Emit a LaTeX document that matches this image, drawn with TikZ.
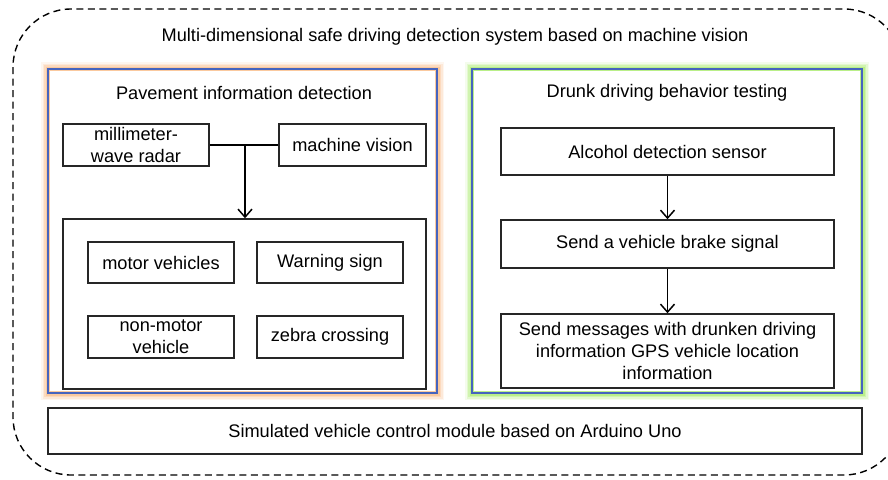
\documentclass[tikz,border=0pt]{standalone}
\usepackage{fontspec}
\setmainfont{Liberation Sans}
\usetikzlibrary{arrows.meta}
\definecolor{glowor}{RGB}{250,185,130}
\definecolor{glowgr}{RGB}{165,235,100}
\definecolor{panelblue}{RGB}{70,100,190}
\tikzset{
  box/.style={draw=black!85, line width=1.5pt, inner sep=0pt, align=center,
    font=\fontsize{18.2}{22}\selectfont},
  panel/.style={draw=panelblue, line width=1.5pt, inner sep=0pt},
  lbl/.style={inner sep=0pt, font=\fontsize{18.2}{22}\selectfont},
  arr/.style={line width=1.5pt, -{Straight Barb[length=8pt,width=14pt,line width=1.5pt]}},
  conn/.style={line width=1.5pt},
}
\begin{document}
\begin{tikzpicture}[x=1pt,y=-1pt]
\useasboundingbox (0,0) rectangle (888,479);
\fill[white] (0,0) rectangle (888,479);
% outer dashed frame
\draw[line width=1.4pt, dash pattern=on 7pt off 4.5pt, rounded corners=58pt] (13,9) rectangle (902,475);
\node[lbl] (title) at (455,37) {Multi-dimensional safe driving detection system based on machine vision};
% glows
\foreach \w/\o in {14/0.12,11/0.2,8/0.3,5/0.5}{
  \draw[glowor, line width=\w pt, opacity=\o] (48,69) rectangle (437,393);
  \draw[glowgr, line width=\w pt, opacity=\o] (472,69) rectangle (862,393);
}
\fill[white] (50,71) rectangle (435,391);
\fill[white] (474,71) rectangle (860,391);
\node[panel, minimum width=389pt, minimum height=324pt] (lpanel) at (242.5,231) {};
\node[panel, minimum width=390pt, minimum height=324pt] (rpanel) at (667,231) {};
% left panel
\node[lbl] (ltitle) at (244,93) {Pavement information detection};
\node[box, minimum width=146pt, minimum height=42pt] (radar) at (136,145) {millimeter-\\wave radar};
\node[box, minimum width=147pt, minimum height=42pt] (vision) at (352.5,145) {machine vision};
\node[box, minimum width=363pt, minimum height=170pt] (targets) at (244.5,304) {};
\node[box, minimum width=146pt, minimum height=41pt] (motor) at (161,262.5) {motor vehicles};
\node[box, minimum width=146pt, minimum height=41pt] (warn) at (330,262.5) {Warning sign};
\node[box, minimum width=146pt, minimum height=42pt] (nonmotor) at (161,337) {non-motor\\vehicle};
\node[box, minimum width=146pt, minimum height=42pt] (zebra) at (330,337) {zebra crossing};
\coordinate (join) at (245,145);
\draw[conn] (radar.east) -- (vision.west);
\draw[arr] (join) -- (join |- targets.north);
% right panel
\node[lbl] (rtitle) at (667,93) {Drunk driving behavior testing};
\node[box, minimum width=333pt, minimum height=47pt] (alcohol) at (667.5,151.5) {Alcohol detection sensor};
\node[box, minimum width=333pt, minimum height=48pt] (brake) at (667.5,244) {Send a vehicle brake signal};
\node[box, minimum width=333pt, minimum height=74pt] (msg) at (667.5,351) {Send messages with drunken driving\\information GPS vehicle location\\information};
\draw[arr] (alcohol.south) -- (brake.north);
\draw[arr] (brake.south) -- (msg.north);
% bottom
\node[box, minimum width=814pt, minimum height=46pt] (arduino) at (455,431) {Simulated vehicle control module based on Arduino Uno};
\end{tikzpicture}
\end{document}
